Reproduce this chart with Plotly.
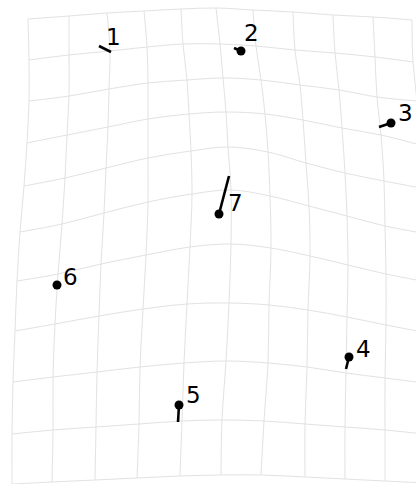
import plotly.graph_objects as go

# Warped grid node coordinates (picture units, y grows downward)
# col_x[c][r]: x of node in column c, row r
col_x = [
    [28, 29, 29, 27, 24, 20, 17, 15, 13, 12, 12],
    [69, 69, 69, 67, 65, 62, 58, 55, 53, 53, 52],
    [107, 110, 109, 108, 106, 104, 101, 99, 97, 96, 95],
    [144, 147, 148, 148, 148, 148, 146, 143, 140, 139, 137],
    [181, 183, 187, 189, 191, 192, 190, 187, 184, 182, 180],
    [216, 220, 223, 226, 228, 231, 231, 229, 226, 222, 221],
    [253, 256, 261, 265, 268, 270, 271, 269, 268, 264, 261],
    [293, 295, 300, 303, 306, 309, 310, 308, 307, 305, 305],
    [333, 335, 339, 342, 345, 347, 348, 347, 346, 345, 345],
    [373, 375, 377, 381, 384, 385, 386, 386, 385, 385, 385],
    [412, 413, 417, 420, 421, 422, 422, 423, 424, 424, 425],
]
# row_y[r][c]: y of node in row r, column c
row_y = [
    [19, 16, 13, 11, 9, 8, 10, 12, 15, 17, 20],
    [60, 55, 51, 47, 44, 44, 46, 50, 53, 57, 62],
    [101, 96, 89, 83, 80, 78, 80, 85, 90, 97, 101],
    [143, 135, 127, 119, 114, 112, 114, 120, 128, 135, 145],
    [186, 178, 168, 158, 151, 147, 152, 163, 173, 181, 188],
    [232, 224, 213, 202, 194, 190, 196, 206, 216, 226, 233],
    [281, 274, 264, 255, 247, 244, 248, 256, 265, 274, 281],
    [331, 324, 316, 309, 304, 303, 305, 310, 317, 325, 332],
    [382, 377, 372, 367, 363, 361, 363, 367, 373, 378, 383],
    [434, 430, 427, 424, 421, 420, 421, 424, 427, 430, 434],
    [484, 482, 480, 478, 476, 475, 475, 477, 479, 481, 483],
]

# Landmarks and their displacement vectors
labels = ["1", "2", "3", "4", "5", "6", "7"]
lm_x = [99, 241, 391, 349, 179, 57, 219]
lm_y = [46, 51, 123, 357, 405, 285, 214]
vec_x = [12, -7, -12, -3, -1, 0, 10]
vec_y = [6, -3, 4, 12, 17, 0, -38]
dot_shown = [False, True, True, True, True, True, True]

# label offsets in pixels (style)
lbl_dx = [14, 10.5, 14, 14, 14.5, 13, 16]
lbl_dy = [9.5, 18, 10.5, 8, 10, 8.5, 11]

nrows = len(row_y)
ncols = len(col_x)

fig = go.Figure()
GRID = "#e2e2e2"

for r in range(nrows):
    fig.add_trace(go.Scatter(
        x=[col_x[c][r] for c in range(ncols)],
        y=row_y[r],
        mode="lines", line=dict(color=GRID, width=1, shape="spline"),
        hoverinfo="skip", showlegend=False))
for c in range(ncols):
    fig.add_trace(go.Scatter(
        x=col_x[c],
        y=[row_y[r][c] for r in range(nrows)],
        mode="lines", line=dict(color=GRID, width=1, shape="spline"),
        hoverinfo="skip", showlegend=False))

# displacement segments
sx, sy = [], []
for x0, y0, dx, dy in zip(lm_x, lm_y, vec_x, vec_y):
    sx += [x0, x0 + dx, None]
    sy += [y0, y0 + dy, None]
fig.add_trace(go.Scatter(x=sx, y=sy, mode="lines",
                         line=dict(color="black", width=2.6),
                         hoverinfo="skip", showlegend=False))

# landmark dots
fig.add_trace(go.Scatter(
    x=[x for x, s in zip(lm_x, dot_shown) if s],
    y=[y for y, s in zip(lm_y, dot_shown) if s],
    mode="markers", marker=dict(color="black", size=9),
    hoverinfo="skip", showlegend=False))

for lab, x, y, dx, dy in zip(labels, lm_x, lm_y, lbl_dx, lbl_dy):
    fig.add_annotation(x=x, y=y, text=lab, showarrow=False,
                       xshift=dx, yshift=dy, xanchor="center", yanchor="middle",
                       font=dict(family="DejaVu Sans", size=23, color="black"))

fig.update_layout(
    width=416, height=484,
    margin=dict(l=0, r=0, t=0, b=0),
    paper_bgcolor="white", plot_bgcolor="white",
    xaxis=dict(range=[0, 416], visible=False, fixedrange=True),
    yaxis=dict(range=[484, 0], visible=False, fixedrange=True),
    showlegend=False,
    hovermode=False,
)

fig.write_html(
    "out.html",
    config={"displayModeBar": False, "staticPlot": True},
    post_script="document.body.style.margin='0';document.body.style.overflow='hidden';",
)
